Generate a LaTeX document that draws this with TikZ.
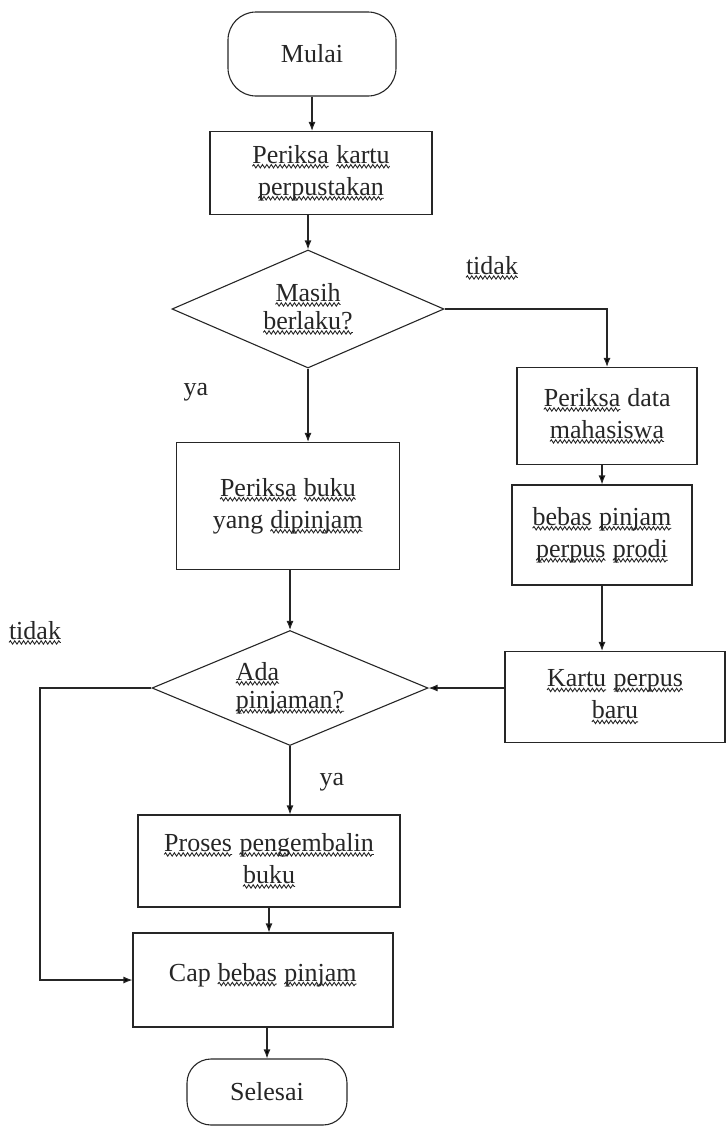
\documentclass[tikz,border=0pt]{standalone}
\usepackage{fontspec}
\setmainfont{Liberation Serif}
\usetikzlibrary{shapes.geometric,arrows.meta,decorations.pathmorphing}

\definecolor{ink}{HTML}{262626}

% wavy underline for the flagged words
\newcommand\sq[1]{\tikz[baseline=0pt, x=1pt, y=1pt]{%
  \node[shape=rectangle, draw=none, fill=none, minimum width=0pt, minimum height=0pt,
        inner sep=0pt, outer sep=0pt, sharp corners, anchor=base west] (sqw) at (0,0) {#1};
  \draw[draw=ink, line width=0.9pt, solid, sharp corners, decorate,
        decoration={snake, amplitude=1.7pt, segment length=4.4pt}]
    ([yshift=-3pt]sqw.base west) -- ([yshift=-3pt]sqw.base east);}}
\newcommand\bodyfont{\fontsize{26}{32}\selectfont}
\newcommand\decfont{\fontsize{26}{28}\selectfont}

\tikzset{
  proc/.style={draw=ink, text=ink, line width=1.1pt, align=center, inner sep=4pt, font=\bodyfont},
  term/.style={proc, rounded corners=28pt},
  dec/.style={draw=ink, text=ink, line width=1.1pt, diamond, aspect=2.4, inner sep=0pt, font=\decfont},
  lbl/.style={text=ink, inner sep=0pt, font=\bodyfont},
  arr/.style={draw=ink, line width=1.1pt, -{Latex[length=9pt,width=7pt]}}
}

\begin{document}
\begin{tikzpicture}[x=1pt, y=-1pt]
\useasboundingbox (0,0) rectangle (728,1128);

% main column
\node[term, minimum width=168pt, minimum height=84pt] (mulai) at (312,54) {Mulai};
\node[proc, minimum width=222pt, minimum height=83pt] (kartu) at (321,173) {\sq{Periksa} \sq{kartu}\\\sq{perpustakan}};
\node[dec, align=center, minimum width=272pt, minimum height=118pt] (masih) at (308,309) {\sq{Masih}\\\sq{berlaku?}};
\node[proc, minimum width=223pt, minimum height=127pt] (buku) at (288,506) {\sq{Periksa} \sq{buku}\\yang \sq{dipinjam}};
\node[dec, align=left, minimum width=276pt, minimum height=115pt] (ada) at (290,688) {\sq{Ada}\\\sq{pinjaman?}};
\node[proc, minimum width=262pt, minimum height=92pt] (proses) at (269,861) {\sq{Proses} \sq{pengembalin}\\\sq{buku}};
\node[proc, minimum width=260pt, minimum height=94pt, text depth=16pt] (cap) at (263,980) {Cap \sq{bebas} \sq{pinjam}};
\node[term, rounded corners=24pt, minimum width=160pt, minimum height=66pt] (selesai) at (267,1092) {Selesai};

% right column
\node[proc, minimum width=180pt, minimum height=97pt] (data) at (607,416) {\sq{Periksa} data\\\sq{mahasiswa}};
\node[proc, minimum width=180pt, minimum height=100pt] (bebas) at (602,535) {\sq{bebas} \sq{pinjam}\\\sq{perpus} \sq{prodi}};
\node[proc, minimum width=220pt, minimum height=91pt] (baru) at (615,697) {\sq{Kartu} \sq{perpus}\\\sq{baru}};

% branch labels
\node[lbl] (t1) at (492,268) {\sq{tidak}};
\node[lbl] (y1) at (196,392) {ya};
\node[lbl] (t2) at (35,633) {\sq{tidak}};
\node[lbl] (y2) at (332,782) {ya};

\coordinate (lft) at (40,0);

% connectors
\draw[arr] (mulai.south) -- (mulai.south |- kartu.north);
\draw[arr] (masih.north |- kartu.south) -- (masih.north);
\draw[arr] (masih.south) -- (masih.south |- buku.north);
\draw[arr] (masih.east) -| (data.north);
\draw[arr] (bebas.north |- data.south) -- (bebas.north);
\draw[arr] (bebas.south) -- (bebas.south |- baru.north);
\draw[arr] (baru.west |- ada.east) -- (ada.east);
\draw[arr] (ada.north |- buku.south) -- (ada.north);
\draw[arr] (ada.south) -- (ada.south |- proses.north);
\draw[arr] (ada.west) -- (ada.west -| lft) |- (cap.west);
\draw[arr] (proses.south) -- (proses.south |- cap.north);
\draw[arr] (selesai.north |- cap.south) -- (selesai.north);
\end{tikzpicture}
\end{document}
